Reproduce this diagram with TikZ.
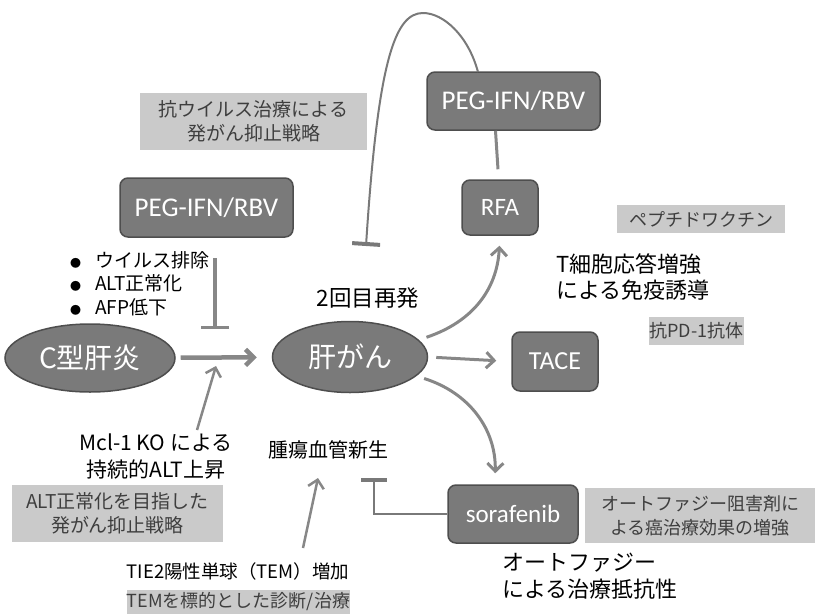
\documentclass[tikz,border=0pt]{standalone}
\usepackage{fontspec}
\setmainfont{Noto Sans CJK JP}
\newfontfamily\latinf{Carlito}
\usetikzlibrary{arrows.meta,shapes.geometric,calc}

\definecolor{darkbox}{RGB}{122,122,122}
\definecolor{darkedge}{RGB}{78,78,78}
\definecolor{lightbox}{RGB}{202,202,202}
\definecolor{notetext}{RGB}{62,62,62}
\definecolor{conn}{RGB}{135,135,135}

\tikzset{
  darknode/.style={draw=darkedge, line width=1.5pt, fill=darkbox, rounded corners=8pt,
    text=white, inner sep=0pt, font=\latinf\fontsize{27}{27}\selectfont},
  oval/.style={ellipse, draw=darkedge, line width=1.5pt, fill=darkbox, text=white,
    inner sep=0pt, font=\fontsize{27}{27}\selectfont},
  note/.style={fill=lightbox, text=notetext, inner sep=0pt, align=center,
    font=\fontsize{19}{24}\selectfont},
  lbl/.style={text=black, inner sep=0pt, align=center, font=\fontsize{21}{27}\selectfont},
  arr/.style={draw=conn, line width=3pt, -{Straight Barb[length=8pt,width=16pt]}},
  inh/.style={draw=conn, line width=3pt, -{Bar[width=28pt]}},
}

\begin{document}
\begin{tikzpicture}[x=1pt,y=-1pt]
\useasboundingbox (0,0) rectangle (815,614);

% main nodes
\node[oval, minimum width=170pt, minimum height=68pt, font=\fontsize{28}{28}\selectfont] (hcv) at (90,358) {C型肝炎};
\node[oval, minimum width=155pt, minimum height=71pt, font=\fontsize{28}{28}\selectfont] (hcc) at (350,357) {肝がん};
\node[darknode, minimum width=173pt, minimum height=59pt] (pegL) at (206.5,207.5) {PEG-IFN/RBV};
\node[darknode, minimum width=173pt, minimum height=58pt] (pegT) at (513.5,101) {PEG-IFN/RBV};
\node[darknode, minimum width=76pt, minimum height=55pt, font=\latinf\fontsize{25}{25}\selectfont] (rfa) at (500,207.5) {RFA};
\node[darknode, minimum width=86pt, minimum height=59pt, font=\latinf\fontsize{26}{26}\selectfont] (tace) at (555,361.5) {TACE};
\node[darknode, minimum width=130pt, minimum height=58pt, font=\latinf\fontsize{25}{25}\selectfont] (sora) at (513,514) {sorafenib};

% grey notes
\node[note, minimum width=227pt, minimum height=57pt] (n1) at (253.5,121.5) {抗ウイルス治療による\\発がん抑止戦略};
\node[note, minimum width=211pt, minimum height=57pt] (n2) at (117.5,513.5) {ALT正常化を目指した\\発がん抑止戦略};
\node[note, minimum width=217pt, minimum height=24pt, font=\fontsize{18}{18}\selectfont] (n3) at (238.5,602) {TEMを標的とした診断/治療};
\node[note, minimum width=168pt, minimum height=28pt, font=\fontsize{18}{18}\selectfont] (n4) at (701,219) {ペプチドワクチン};
\node[note, minimum width=93pt, minimum height=28pt, font=\fontsize{18}{18}\selectfont] (n5) at (696.5,331) {抗PD-1抗体};
\node[note, minimum width=230pt, minimum height=55pt, font=\fontsize{18}{24}\selectfont] (n6) at (700,515.5) {オートファジー阻害剤に\\よる癌治療効果の増強};

% plain labels
\node[lbl, anchor=west, font=\fontsize{19}{19}\selectfont] (b1) at (70,260) {{\fontsize{11}{11}\selectfont ●}\hspace{14pt}ウイルス排除};
\node[lbl, anchor=west, font=\fontsize{19}{19}\selectfont] (b2) at (70,283) {{\fontsize{11}{11}\selectfont ●}\hspace{14pt}ALT正常化};
\node[lbl, anchor=west, font=\fontsize{19}{19}\selectfont] (b3) at (70,307) {{\fontsize{11}{11}\selectfont ●}\hspace{14pt}AFP低下};
\node[lbl, font=\fontsize{22.5}{22.5}\selectfont] (relapse) at (368,298) {2回目再発};
\node[lbl, anchor=west, align=left, font=\fontsize{22}{26}\selectfont] (tcell) at (556,277) {T細胞応答増強\\による免疫誘導};
\node[lbl] (mcl) at (156,456) {Mcl-1 KO による\\持続的ALT上昇};
\node[lbl, font=\fontsize{20}{20}\selectfont] (angio) at (328,450) {腫瘍血管新生};
\node[lbl, font=\fontsize{18.5}{18.5}\selectfont] (tie2) at (238,571) {TIE2陽性単球（TEM）増加};
\node[lbl, anchor=west, align=left, font=\fontsize{22}{27}\selectfont] (auto) at (502,576) {オートファジー\\による治療抵抗性};

% helper coordinates
\coordinate (inhLtop) at (215,258);
\coordinate (inhLbar) at (215,329);
\coordinate (mclstart) at (197,430);
\coordinate (mid) at (216,366);
\coordinate (arcstart) at (478,72);
\coordinate (arcpeak) at (423,13);
\coordinate (arcbar) at (366,246);
\coordinate (angiobar) at (374,478);
\coordinate (tiestart) at (303,548);
\coordinate (angiotip) at (318,478);

% connectors
\draw[arr, line width=4.5pt, shorten <=5pt, shorten >=15pt] (hcv) -- (hcc);
\draw[inh, line width=3.5pt] (inhLtop) -- (inhLbar);
\draw[arr, line width=2.5pt] (mclstart) -- (mid);
\draw[arr, shorten <=8pt, shorten >=15pt] (hcc.east) -- (tace.west);
\draw[arr, shorten <=8pt, shorten >=10pt] (hcc.14) .. controls (472,322) and (497,290) .. (rfa.south);
\draw[arr, shorten <=8pt, shorten >=11pt] (hcc.-16) .. controls (470,393) and (496,430) .. (sora.north -| 495,0);
\draw[draw=conn, line width=3pt] ($(rfa.north)+(-2,-10)$) -- ($(pegT.south)+(-18,0)$);
\draw[draw=conn!90!black, line width=2pt, -{Bar[width=28pt,line width=4pt]}] (arcstart) .. controls (468,35) and (443,13) .. (arcpeak) .. controls (395,13) and (378,60) .. (arcbar);
\draw[draw=conn!90!black, line width=2pt, -{Bar[width=26pt,line width=3.5pt]}] (sora.west) -| (angiobar);
\draw[arr, line width=2.5pt] (tiestart) -- (angiotip);
\end{tikzpicture}
\end{document}
